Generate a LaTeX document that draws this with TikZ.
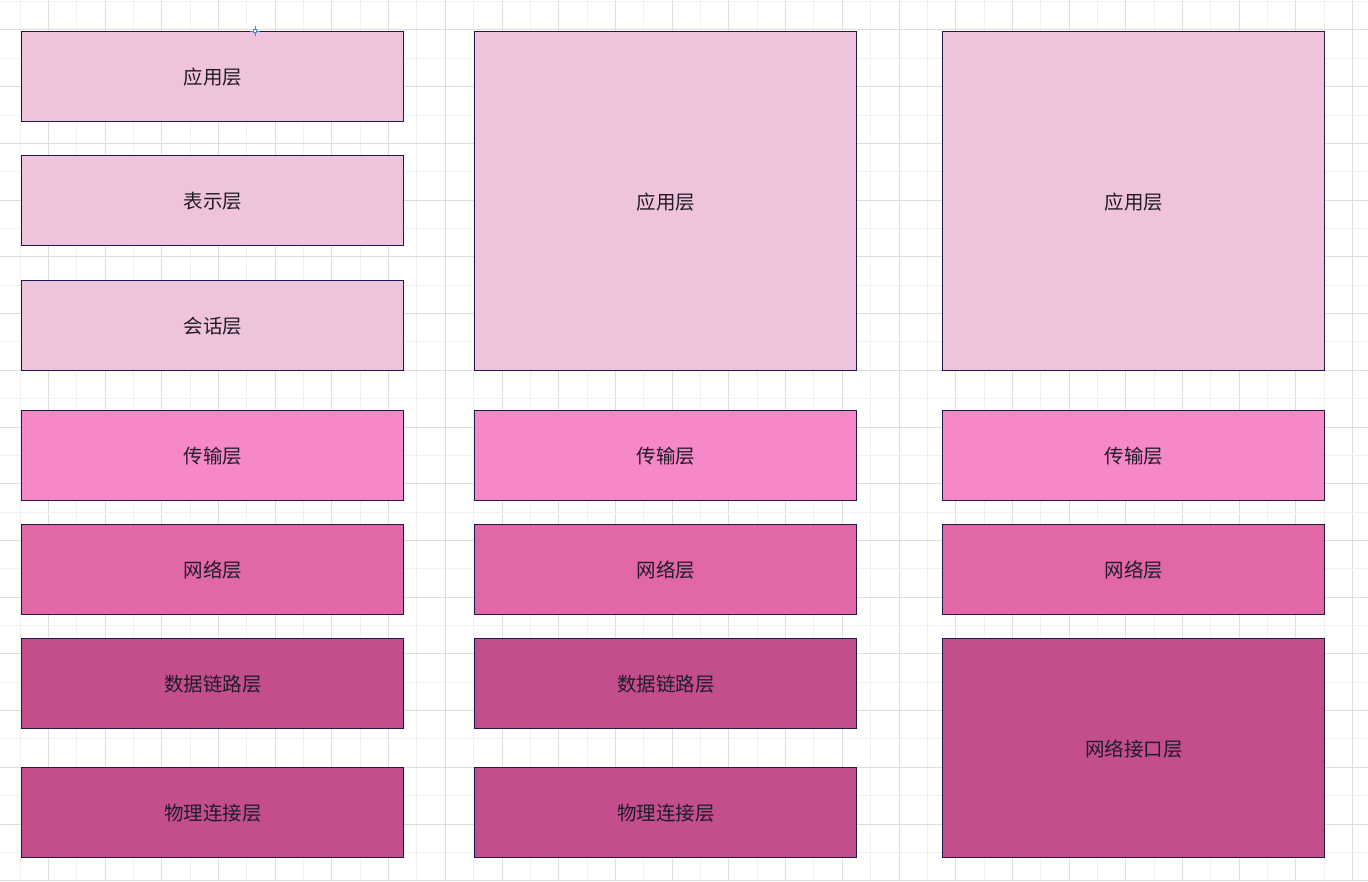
\documentclass[tikz,border=0pt]{standalone}
\usepackage{fontspec}
\newfontfamily\cjk{Noto Sans CJK SC}
\definecolor{gridlight}{RGB}{240,240,240}
\definecolor{griddark}{RGB}{221,221,221}
\definecolor{edge}{RGB}{26,26,78}
\definecolor{cA}{RGB}{240,195,220}
\definecolor{cB}{RGB}{247,136,199}
\definecolor{cC}{RGB}{225,103,166}
\definecolor{cD}{RGB}{196,78,139}
\definecolor{txt}{RGB}{30,28,40}
\definecolor{handle}{RGB}{60,130,230}
\tikzset{
  layer/.style={draw=edge, line width=0.9pt},
  layertext/.style={text=txt, font=\cjk\fontsize{19.5}{22}\selectfont, inner sep=0pt},
}
\newcommand{\layerbox}[7]{% name, x1, y1, x2, y2, color, text
  \path[layer, fill=#6] (#2,#3) rectangle (#4,#5);
  \node[layertext] (#1) at ({(#2+#4)/2+1},{(#3+#5)/2+1.5}) {#7};
}
\begin{document}
\begin{tikzpicture}[x=1pt,y=-1pt]
\useasboundingbox (0,0) rectangle (1368,881);
\fill[white] (0,0) rectangle (1368,881);
% grid
\foreach \i in {0,...,48} {
  \pgfmathsetmacro{\xx}{20+\i*28.355}
  \pgfmathtruncatemacro{\odd}{mod(\i,2)}
  \ifnum\odd=1
    \draw[griddark, line width=1pt] (\xx,0) -- (\xx,881);
  \else
    \draw[gridlight, line width=1pt] (\xx,0) -- (\xx,881);
  \fi
}
\draw[gridlight, line width=1pt] (20-28.355,0) -- (20-28.355,881);
\foreach \j in {0,...,31} {
  \pgfmathsetmacro{\yy}{1.6+\j*28.36}
  \pgfmathtruncatemacro{\odd}{mod(\j,2)}
  \ifnum\odd=1
    \draw[griddark, line width=1pt] (0,\yy) -- (1368,\yy);
  \else
    \draw[gridlight, line width=1pt] (0,\yy) -- (1368,\yy);
  \fi
}
% column 1
\layerbox{a1}{21}{31}{403}{121}{cA}{应用层}
\layerbox{a2}{21}{155}{403}{245}{cA}{表示层}
\layerbox{a3}{21}{280}{403}{370}{cA}{会话层}
\layerbox{a4}{21}{410}{403}{500}{cB}{传输层}
\layerbox{a5}{21}{524}{403}{614}{cC}{网络层}
\layerbox{a6}{21}{638}{403}{728}{cD}{数据链路层}
\layerbox{a7}{21}{767}{403}{857}{cD}{物理连接层}
% column 2
\layerbox{b1}{474}{31}{856}{370}{cA}{应用层}
\layerbox{b4}{474}{410}{856}{500}{cB}{传输层}
\layerbox{b5}{474}{524}{856}{614}{cC}{网络层}
\layerbox{b6}{474}{638}{856}{728}{cD}{数据链路层}
\layerbox{b7}{474}{767}{856}{857}{cD}{物理连接层}
% column 3
\layerbox{c1}{942}{31}{1324}{370}{cA}{应用层}
\layerbox{c4}{942}{410}{1324}{500}{cB}{传输层}
\layerbox{c5}{942}{524}{1324}{614}{cC}{网络层}
\layerbox{c6}{942}{638}{1324}{857}{cD}{网络接口层}
% selection handle
\draw[handle, line width=0.8pt] (250,31) -- (260,31) (255,26) -- (255,36);
\draw[handle, fill=white, line width=0.8pt] (253.3,29.3) rectangle (256.7,32.7);
\end{tikzpicture}
\end{document}
